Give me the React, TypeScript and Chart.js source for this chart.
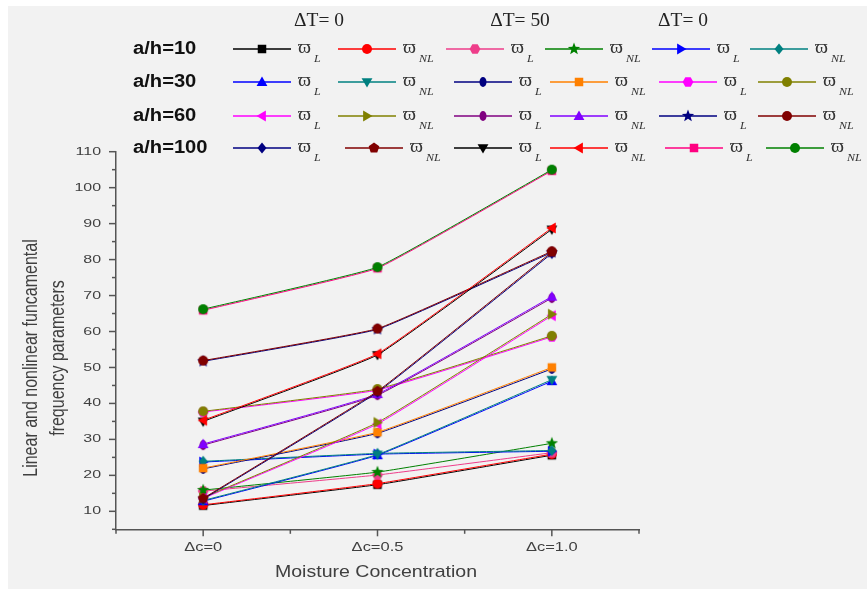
import React, { useEffect, useRef } from 'react';
import { Chart, registerables } from 'chart.js';

Chart.register(...registerables);

// ---------------- data ----------------
const moistureConcentration = [0, 0.5, 1.0];
const xTickLabels = ['Δc=0', 'Δc=0.5', 'Δc=1.0'];
const xMinorTicks = [-0.25, 0.25, 0.75, 1.25];
const yMajorTicks = [10, 20, 30, 40, 50, 60, 70, 80, 90, 100, 110];
const yMinorTicks = [5, 15, 25, 35, 45, 55, 65, 75, 85, 95, 105];
const rowLabels = ['a/h=10', 'a/h=30', 'a/h=60', 'a/h=100'];
const headerLabels = ['ΔT= 0', 'ΔT= 50', 'ΔT= 0'];
const kindLabels = ['L', 'NL', 'L', 'NL', 'L', 'NL'];

// a/h = 10
const ah10_T0_L = [11.6, 17.4, 25.6];
const ah10_T0_NL = [11.8, 17.7, 25.9];
const ah10_T50_L = [15.6, 20.1, 26.3];
const ah10_T50_NL = [15.9, 20.9, 28.9];
const ah10_T0b_L = [23.7, 25.9, 26.7];
const ah10_T0b_NL = [23.9, 26.1, 26.9];
// a/h = 30
const ah30_T0_L = [12.8, 25.6, 46.2];
const ah30_T0_NL = [13.0, 25.8, 46.6];
const ah30_T50_L = [21.8, 31.7, 49.6];
const ah30_T50_NL = [22.0, 32.0, 50.0];
const ah30_T0b_L = [37.6, 43.7, 58.5];
const ah30_T0b_NL = [37.8, 44.0, 58.8];
// a/h = 60
const ah60_T0_L = [13.6, 34.3, 64.4];
const ah60_T0_NL = [13.8, 34.7, 64.8];
const ah60_T50_L = [28.4, 42.3, 69.3];
const ah60_T50_NL = [28.7, 42.6, 69.7];
const ah60_T0b_L = [51.7, 60.6, 82.0];
const ah60_T0b_NL = [51.9, 60.8, 82.3];
// a/h = 100
const ah100_T0_L = [13.4, 43.1, 81.7];
const ah100_T0_NL = [13.6, 43.4, 82.1];
const ah100_T50_L = [35.0, 53.5, 88.4];
const ah100_T50_NL = [35.3, 53.8, 88.8];
const ah100_T0b_L = [65.9, 77.6, 104.7];
const ah100_T0b_NL = [66.2, 77.9, 105.0];

const seriesValues = [
  ah10_T0_L, ah10_T0_NL, ah10_T50_L, ah10_T50_NL, ah10_T0b_L, ah10_T0b_NL,
  ah30_T0_L, ah30_T0_NL, ah30_T50_L, ah30_T50_NL, ah30_T0b_L, ah30_T0b_NL,
  ah60_T0_L, ah60_T0_NL, ah60_T50_L, ah60_T50_NL, ah60_T0b_L, ah60_T0b_NL,
  ah100_T0_L, ah100_T0_NL, ah100_T50_L, ah100_T50_NL, ah100_T0b_L, ah100_T0b_NL,
];

// ---------------- styles ----------------
const seriesStyles = [
  { color: '#000000', shape: 'square' },
  { color: '#ff0000', shape: 'circle' },
  { color: '#ee3d8a', shape: 'hexagon' },
  { color: '#008000', shape: 'star' },
  { color: '#0000ff', shape: 'triRight' },
  { color: '#008080', shape: 'diamond' },
  { color: '#0000ff', shape: 'triUp' },
  { color: '#008080', shape: 'triDown' },
  { color: '#000080', shape: 'ellipse' },
  { color: '#ff8000', shape: 'square' },
  { color: '#ff00ff', shape: 'hexagon' },
  { color: '#808000', shape: 'circle' },
  { color: '#ff00ff', shape: 'triLeft' },
  { color: '#808000', shape: 'triRight' },
  { color: '#800080', shape: 'ellipse' },
  { color: '#8000ff', shape: 'triUp' },
  { color: '#000080', shape: 'star' },
  { color: '#800000', shape: 'circle' },
  { color: '#000080', shape: 'diamond' },
  { color: '#800000', shape: 'pentagon' },
  { color: '#000000', shape: 'triDown' },
  { color: '#ff0000', shape: 'triLeft' },
  { color: '#ff0080', shape: 'square' },
  { color: '#008000', shape: 'circle' },
];

const SANS = '"Liberation Sans", Arial, sans-serif';
const SERIF = '"Liberation Serif", "DejaVu Serif", serif';
const AXIS_COLOR = '#555555';
const TEXT_COLOR = '#404040';

function polygon(g: CanvasRenderingContext2D, cx: number, cy: number, r: number, n: number, startDeg: number) {
  g.beginPath();
  for (let k = 0; k < n; k++) {
    const a = ((startDeg + (360 / n) * k) * Math.PI) / 180;
    const px = cx + r * Math.cos(a);
    const py = cy + r * Math.sin(a);
    if (k === 0) g.moveTo(px, py);
    else g.lineTo(px, py);
  }
  g.closePath();
  g.fill();
}

function drawShape(g: CanvasRenderingContext2D, shape: string, cx: number, cy: number, r: number, color: string) {
  g.fillStyle = color;
  switch (shape) {
    case 'square':
      g.fillRect(cx - r * 0.85, cy - r * 0.85, r * 1.7, r * 1.7);
      break;
    case 'circle':
      g.beginPath();
      g.arc(cx, cy, r, 0, Math.PI * 2);
      g.fill();
      break;
    case 'hexagon':
      polygon(g, cx, cy, r * 1.08, 6, 0);
      break;
    case 'pentagon':
      polygon(g, cx, cy, r * 1.12, 5, -90);
      break;
    case 'triUp':
      polygon(g, cx, cy + r * 0.15, r * 1.25, 3, -90);
      break;
    case 'triDown':
      polygon(g, cx, cy - r * 0.15, r * 1.25, 3, 90);
      break;
    case 'triLeft':
      polygon(g, cx + r * 0.15, cy, r * 1.25, 3, 180);
      break;
    case 'triRight':
      polygon(g, cx - r * 0.15, cy, r * 1.25, 3, 0);
      break;
    case 'diamond':
      g.beginPath();
      g.moveTo(cx, cy - r * 1.1);
      g.lineTo(cx + r * 0.9, cy);
      g.lineTo(cx, cy + r * 1.1);
      g.lineTo(cx - r * 0.9, cy);
      g.closePath();
      g.fill();
      break;
    case 'ellipse':
      g.beginPath();
      g.ellipse(cx, cy, r * 0.7, r * 1.0, 0, 0, Math.PI * 2);
      g.fill();
      break;
    case 'star': {
      g.beginPath();
      for (let k = 0; k < 10; k++) {
        const rr = k % 2 === 0 ? r * 1.3 : r * 0.55;
        const a = ((-90 + 36 * k) * Math.PI) / 180;
        const px = cx + rr * Math.cos(a);
        const py = cy + rr * Math.sin(a);
        if (k === 0) g.moveTo(px, py);
        else g.lineTo(px, py);
      }
      g.closePath();
      g.fill();
      break;
    }
    default:
      break;
  }
}

function makeMarker(shape: string, color: string, r: number): HTMLCanvasElement {
  const size = Math.ceil(r * 2.8) + 2;
  const c = document.createElement('canvas');
  c.width = size;
  c.height = size;
  const g = c.getContext('2d') as CanvasRenderingContext2D;
  drawShape(g, shape, size / 2, size / 2, r, color);
  return c;
}

function stretchText(
  ctx: CanvasRenderingContext2D,
  text: string,
  x: number,
  y: number,
  font: string,
  color: string,
  align: CanvasTextAlign,
  sx: number,
) {
  ctx.save();
  ctx.translate(x, y);
  ctx.scale(sx, 1);
  ctx.font = font;
  ctx.fillStyle = color;
  ctx.textAlign = align;
  ctx.textBaseline = 'middle';
  ctx.fillText(text, 0, 0);
  const w = ctx.measureText(text).width * sx;
  ctx.restore();
  return w;
}

const backgroundPlugin = {
  id: 'pageBackground',
  beforeDraw(chart: any) {
    const ctx = chart.ctx as CanvasRenderingContext2D;
    ctx.save();
    ctx.fillStyle = '#ffffff';
    ctx.fillRect(0, 0, chart.width, chart.height);
    ctx.fillStyle = '#f2f2f2';
    ctx.fillRect(8, 6, chart.width - 8, chart.height - 6);
    ctx.restore();
  },
};

// legend layout (per row column starts)
const legendRowY = [49, 82, 116, 148];
const legendColX = [
  [233, 338, 446, 545, 652, 750],
  [233, 338, 454, 550, 659, 758],
  [233, 338, 454, 550, 659, 758],
  [233, 345, 454, 550, 665, 766],
];
const headerX = [319, 520, 683];

function makeDecorPlugin(markers: HTMLCanvasElement[]) {
  return {
    id: 'decor',
    afterDraw(chart: any) {
      const ctx = chart.ctx as CanvasRenderingContext2D;
      const xs = chart.scales.x;
      const ys = chart.scales.y;
      const area = chart.chartArea;
      ctx.save();
      ctx.strokeStyle = AXIS_COLOR;
      ctx.lineWidth = 1.5;
      // y ticks
      yMajorTicks.forEach((v) => {
        const y = ys.getPixelForValue(v);
        ctx.beginPath();
        ctx.moveTo(area.left - 7, y);
        ctx.lineTo(area.left, y);
        ctx.stroke();
        stretchText(ctx, String(v), 101, y, `11px ${SANS}`, TEXT_COLOR, 'right', 1.45);
      });
      yMinorTicks.forEach((v) => {
        const y = ys.getPixelForValue(v);
        ctx.beginPath();
        ctx.moveTo(area.left - 4, y);
        ctx.lineTo(area.left, y);
        ctx.stroke();
      });
      // x ticks
      moistureConcentration.forEach((v, i) => {
        const x = xs.getPixelForValue(v);
        ctx.beginPath();
        ctx.moveTo(x, area.bottom);
        ctx.lineTo(x, area.bottom + 7);
        ctx.stroke();
        stretchText(ctx, xTickLabels[i], x, 547, `13.5px ${SANS}`, TEXT_COLOR, 'center', 1.22);
      });
      xMinorTicks.forEach((v) => {
        const x = xs.getPixelForValue(v);
        ctx.beginPath();
        ctx.moveTo(x, area.bottom);
        ctx.lineTo(x, area.bottom + 4.5);
        ctx.stroke();
      });
      // axis titles
      stretchText(ctx, 'Moisture Concentration', 376, 572, `17px ${SANS}`, TEXT_COLOR, 'center', 1.15);
      const yTitle = ['Linear and nonlinear funcamental', 'frequency parameters'];
      const yTitleX = [31, 58];
      yTitle.forEach((t, i) => {
        ctx.save();
        ctx.translate(yTitleX[i], 358);
        ctx.rotate(-Math.PI / 2);
        ctx.scale(1, 1.3);
        ctx.font = `16px ${SANS}`;
        ctx.fillStyle = TEXT_COLOR;
        ctx.textAlign = 'center';
        ctx.textBaseline = 'middle';
        ctx.fillText(t, 0, 0);
        ctx.restore();
      });
      // legend headers
      headerLabels.forEach((h, i) => {
        stretchText(ctx, h, headerX[i], 21, `18px ${SERIF}`, '#222222', 'center', 1.08);
      });
      // legend rows
      rowLabels.forEach((lab, r) => {
        const y = legendRowY[r];
        stretchText(ctx, lab, 133, y, `bold 18px ${SANS}`, '#111111', 'left', 1.12);
        for (let c = 0; c < 6; c++) {
          const idx = r * 6 + c;
          const x0 = legendColX[r][c];
          const st = seriesStyles[idx];
          ctx.strokeStyle = st.color;
          ctx.lineWidth = 1.4;
          ctx.beginPath();
          ctx.moveTo(x0, y);
          ctx.lineTo(x0 + 58, y);
          ctx.stroke();
          const m = markers[idx];
          ctx.drawImage(m, x0 + 29 - m.width / 2, y - m.height / 2);
          const lx = x0 + 65;
          const w = stretchText(ctx, 'ϖ', lx, y - 1, `18px ${SERIF}`, '#333333', 'left', 1.1);
          stretchText(ctx, kindLabels[c], lx + w + 3, y + 10, `italic 10px ${SERIF}`, '#333333', 'left', 1.2);
        }
      });
      ctx.restore();
    },
  };
}

export default function App() {
  const canvasRef = useRef<HTMLCanvasElement | null>(null);

  useEffect(() => {
    document.body.style.margin = '0';
    const canvas = canvasRef.current;
    if (!canvas) return;
    const markers = seriesStyles.map((s) => makeMarker(s.shape, s.color, 5));
    const datasets = seriesValues.map((vals, i) => ({
      label: `${rowLabels[Math.floor(i / 6)]} ${kindLabels[i % 6]}${i}`,
      data: vals.map((v, k) => ({ x: moistureConcentration[k], y: v })),
      borderColor: seriesStyles[i].color,
      backgroundColor: seriesStyles[i].color,
      borderWidth: 1,
      pointStyle: markers[i],
      pointRadius: 5,
      pointHoverRadius: 5,
      tension: 0.1,
      order: 100 - i,
      clip: false as any,
    }));
    const chart = new Chart(canvas, {
      type: 'line',
      data: { datasets },
      options: {
        animation: false,
        responsive: false,
        events: [],
        layout: { padding: { left: 0, top: 151.7, right: 228, bottom: 589 - 529.3 - 40 } },
        plugins: { legend: { display: false }, tooltip: { enabled: false } },
        scales: {
          x: {
            type: 'linear',
            min: -0.25,
            max: 1.25,
            grid: { display: false },
            border: { display: true, color: AXIS_COLOR, width: 1.5 },
            ticks: { display: false },
            afterFit: (s: any) => {
              s.height = 40;
            },
          },
          y: {
            type: 'linear',
            min: 5,
            max: 110,
            grid: { display: false },
            border: { display: true, color: AXIS_COLOR, width: 1.5 },
            ticks: { display: false },
            afterFit: (s: any) => {
              s.width = 116;
            },
          },
        },
      } as any,
      plugins: [backgroundPlugin, makeDecorPlugin(markers)],
    });
    return () => {
      chart.destroy();
    };
  }, []);

  return <canvas ref={canvasRef} width={867} height={589} style={{ display: 'block' }} />;
}
